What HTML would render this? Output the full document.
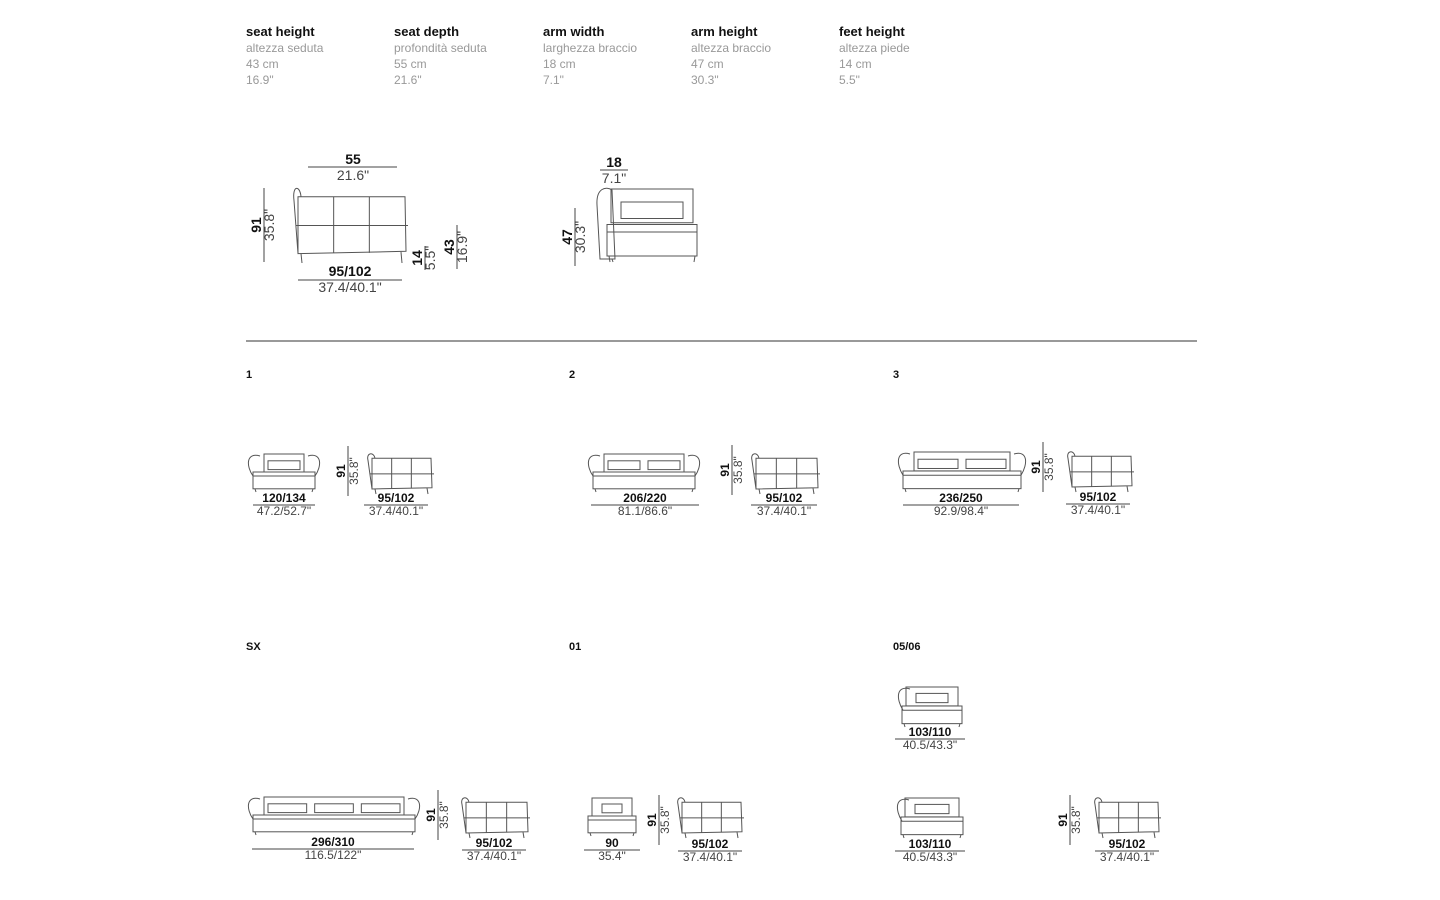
<!DOCTYPE html>
<html><head><meta charset="utf-8"><style>
body{margin:0;background:#fff;width:1440px;height:900px;overflow:hidden;position:relative;font-family:"Liberation Sans",Arial,sans-serif}
.t{position:absolute;white-space:nowrap}
.h{font-size:13px;font-weight:bold;color:#111}
.g{font-size:12px;color:#999}
</style></head><body>
<div id="hdr"></div>
<svg id="s" width="1440" height="900" style="position:absolute;left:0;top:0" font-family="Liberation Sans, Arial, sans-serif"></svg>
<script>
var H=[[246,"seat height","altezza seduta","43 cm",'16.9"'],[394,"seat depth","profondità seduta","55 cm",'21.6"'],[543,"arm width","larghezza braccio","18 cm",'7.1"'],[691,"arm height","altezza braccio","47 cm",'30.3"'],[839,"feet height","altezza piede","14 cm",'5.5"']];
var h='';H.forEach(function(c){h+='<div class="t h" style="left:'+c[0]+'px;top:24px">'+c[1]+'</div>';for(var i=2;i<5;i++)h+='<div class="t g" style="left:'+c[0]+'px;top:'+(41+(i-2)*16)+'px">'+c[i]+'</div>';});
document.getElementById('hdr').innerHTML=h;
var o='';var S='stroke="#555" fill="none" stroke-width="1"';
function txt(x,y,s,b,sz,col){o+='<text x="'+x+'" y="'+y+'" text-anchor="middle" font-size="'+(sz||12)+'" '+(b?'font-weight="bold" fill="#111"':'fill="'+(col||'#444')+'"')+'>'+s+'</text>';}
function hd(cx,y,w,a,b,sz){txt(cx,y,a,1,sz);o+='<line x1="'+(cx-w/2)+'" y1="'+(y+3)+'" x2="'+(cx+w/2)+'" y2="'+(y+3)+'" stroke="#444"/>';txt(cx,y+13,b,0,sz);}
function vd(x,cy,a,b,len,sz){o+='<g transform="translate('+x+','+cy+') rotate(-90)">';txt(0,-1,a,1,sz);txt(0,12,b,0,sz);o+='</g>';o+='<line x1="'+(x+2)+'" y1="'+(cy-len/2)+'" x2="'+(x+2)+'" y2="'+(cy+len/2)+'" stroke="#444"/>';}
function front(x,y,w,hh,n){var a=12;
o+='<path d="M'+(x+a)+' '+(y+4)+' C'+(x-2)+' '+(y)+' '+(x-2)+' '+(y+14)+' '+(x+5)+' '+(y+hh*0.6)+' L'+(x+5)+' '+(y+hh-5)+'" '+S+'/>';
o+='<path d="M'+(x+w-a)+' '+(y+4)+' C'+(x+w+2)+' '+(y)+' '+(x+w+2)+' '+(y+14)+' '+(x+w-5)+' '+(y+hh*0.6)+' L'+(x+w-5)+' '+(y+hh-5)+'" '+S+'/>';
o+='<rect x="'+(x+a+4)+'" y="'+(y+2)+'" width="'+(w-2*a-8)+'" height="'+(hh*0.45)+'" '+S+'/>';
var cw=(w-2*a-8)/n;for(var i=0;i<n;i++){o+='<rect x="'+(x+a+8+i*cw)+'" y="'+(y+hh*0.22)+'" width="'+(cw-8)+'" height="'+(hh*0.22)+'" '+S+'/>';}
o+='<rect x="'+(x+5)+'" y="'+(y+hh*0.5)+'" width="'+(w-10)+'" height="'+(hh*0.42)+'" '+S+'/>';
o+='<line x1="'+(x+5)+'" y1="'+(y+hh*0.6)+'" x2="'+(x+w-5)+'" y2="'+(y+hh*0.6)+'" '+S+'/>';
o+='<line x1="'+(x+7)+'" y1="'+(y+hh*0.92)+'" x2="'+(x+8)+'" y2="'+(y+hh)+'" '+S+'/><line x1="'+(x+w-7)+'" y1="'+(y+hh*0.92)+'" x2="'+(x+w-8)+'" y2="'+(y+hh)+'" '+S+'/>';}
function side(x,y,w,hh){
o+='<path d="M'+(x+6)+' '+(y+hh*0.88)+' L'+(x+2)+' '+(y+hh*0.2)+' C'+(x)+' '+(y)+' '+(x+8)+' '+(y)+' '+(x+9)+' '+(y+hh*0.15)+'" '+S+'/>';
o+='<path d="M'+(x+6)+' '+(y+hh*0.15)+' L'+(x+w-3)+' '+(y+hh*0.15)+' L'+(x+w-2)+' '+(y+hh*0.85)+' L'+(x+6)+' '+(y+hh*0.88)+' Z" '+S+'/>';
o+='<line x1="'+(x+4)+'" y1="'+(y+hh*0.52)+'" x2="'+(x+w)+'" y2="'+(y+hh*0.52)+'" '+S+'/>';
for(var i=1;i<3;i++){var xx=x+6+i*(w-9)/3;o+='<line x1="'+xx+'" y1="'+(y+hh*0.15)+'" x2="'+xx+'" y2="'+(y+hh*0.87)+'" '+S+'/>';}
o+='<line x1="'+(x+9)+'" y1="'+(y+hh*0.88)+'" x2="'+(x+10)+'" y2="'+(y+hh)+'" '+S+'/><line x1="'+(x+w-7)+'" y1="'+(y+hh*0.86)+'" x2="'+(x+w-6)+'" y2="'+(y+hh)+'" '+S+'/>';}
function chaise(x,y,w,hh,arm){
if(arm)o+='<path d="M'+(x+12)+' '+(y+4)+' C'+(x-2)+' '+y+' '+(x-2)+' '+(y+14)+' '+(x+5)+' '+(y+hh*0.6)+'" '+S+'/>';
o+='<rect x="'+(x+8)+'" y="'+(y+2)+'" width="'+(w-16)+'" height="'+(hh*0.45)+'" '+S+'/>';
o+='<rect x="'+(x+18)+'" y="'+(y+hh*0.2)+'" width="'+(w-36)+'" height="'+(hh*0.22)+'" '+S+'/>';
o+='<rect x="'+(x+4)+'" y="'+(y+hh*0.5)+'" width="'+(w-8)+'" height="'+(hh*0.42)+'" '+S+'/>';
o+='<line x1="'+(x+4)+'" y1="'+(y+hh*0.6)+'" x2="'+(x+w-4)+'" y2="'+(y+hh*0.6)+'" '+S+'/>';
o+='<line x1="'+(x+6)+'" y1="'+(y+hh*0.92)+'" x2="'+(x+7)+'" y2="'+(y+hh)+'" '+S+'/><line x1="'+(x+w-6)+'" y1="'+(y+hh*0.92)+'" x2="'+(x+w-7)+'" y2="'+(y+hh)+'" '+S+'/>';}
// top
side(292,185,116,78);
hd(353,164,90,'55','21.6"',0,14);txt(353,164,'55',1,14);
o='';
side(292,185,116,78);
txt(353,164,'55',1,14);o+='<line x1="308" y1="167" x2="397" y2="167" stroke="#444"/>';txt(353,180,'21.6"',0,14);
txt(350,276,'95/102',1,14);o+='<line x1="298" y1="280" x2="402" y2="280" stroke="#444"/>';txt(350,292,'37.4/40.1"',0,14);
vd(262,225,'91','35.8"',74,14);vd(423,258,'14','5.5"',24,14);vd(455,247,'43','16.9"',44,14);
chaise(603,187,98,75,0);o+='<path d="M600 259 L597 205 C596 188 606 186 612 190 L615 259 Z" '+S+'/><line x1="612" y1="259" x2="613" y2="262" '+S+'/>';
txt(614,167,'18',1,14);o+='<line x1="600" y1="170" x2="628" y2="170" stroke="#444"/>';txt(614,183,'7.1"',0,14);
vd(573,237,'47','30.3"',58,14);
o+='<line x1="246" y1="341" x2="1197" y2="341" stroke="#999" stroke-width="2"/>';
o+='<g font-size="11" font-weight="bold" fill="#111"><text x="246" y="378">1</text><text x="569" y="378">2</text><text x="893" y="378">3</text><text x="246" y="650">SX</text><text x="569" y="650">01</text><text x="893" y="650">05/06</text></g>';
front(248,452,72,40,1);hd(284,502,62,'120/134','47.2/52.7"');vd(346,471,'91','35.8"',50);side(366,452,68,42);hd(396,502,64,'95/102','37.4/40.1"');
front(588,452,112,40,2);hd(645,502,108,'206/220','81.1/86.6"');vd(730,470,'91','35.8"',50);side(750,452,70,42);hd(784,502,66,'95/102','37.4/40.1"');
front(898,450,128,42,2);hd(961,502,116,'236/250','92.9/98.4"');vd(1041,467,'91','35.8"',50);side(1066,450,68,42);hd(1098,501,64,'95/102','37.4/40.1"');
front(248,795,172,40,3);hd(333,846,162,'296/310','116.5/122"');vd(436,815,'91','35.8"',50);side(460,796,70,42);hd(494,847,64,'95/102','37.4/40.1"');
chaise(584,796,56,40,0);hd(612,847,56,'90','35.4"');vd(657,820,'91','35.8"',50);side(676,796,68,42);hd(710,848,64,'95/102','37.4/40.1"');
chaise(898,685,68,42,1);hd(930,736,70,'103/110','40.5/43.3"');
chaise(897,796,70,42,1);hd(930,848,70,'103/110','40.5/43.3"');vd(1068,820,'91','35.8"',50);side(1093,796,68,42);hd(1127,848,64,'95/102','37.4/40.1"');
document.getElementById('s').innerHTML=o;
</script>
</body></html>
